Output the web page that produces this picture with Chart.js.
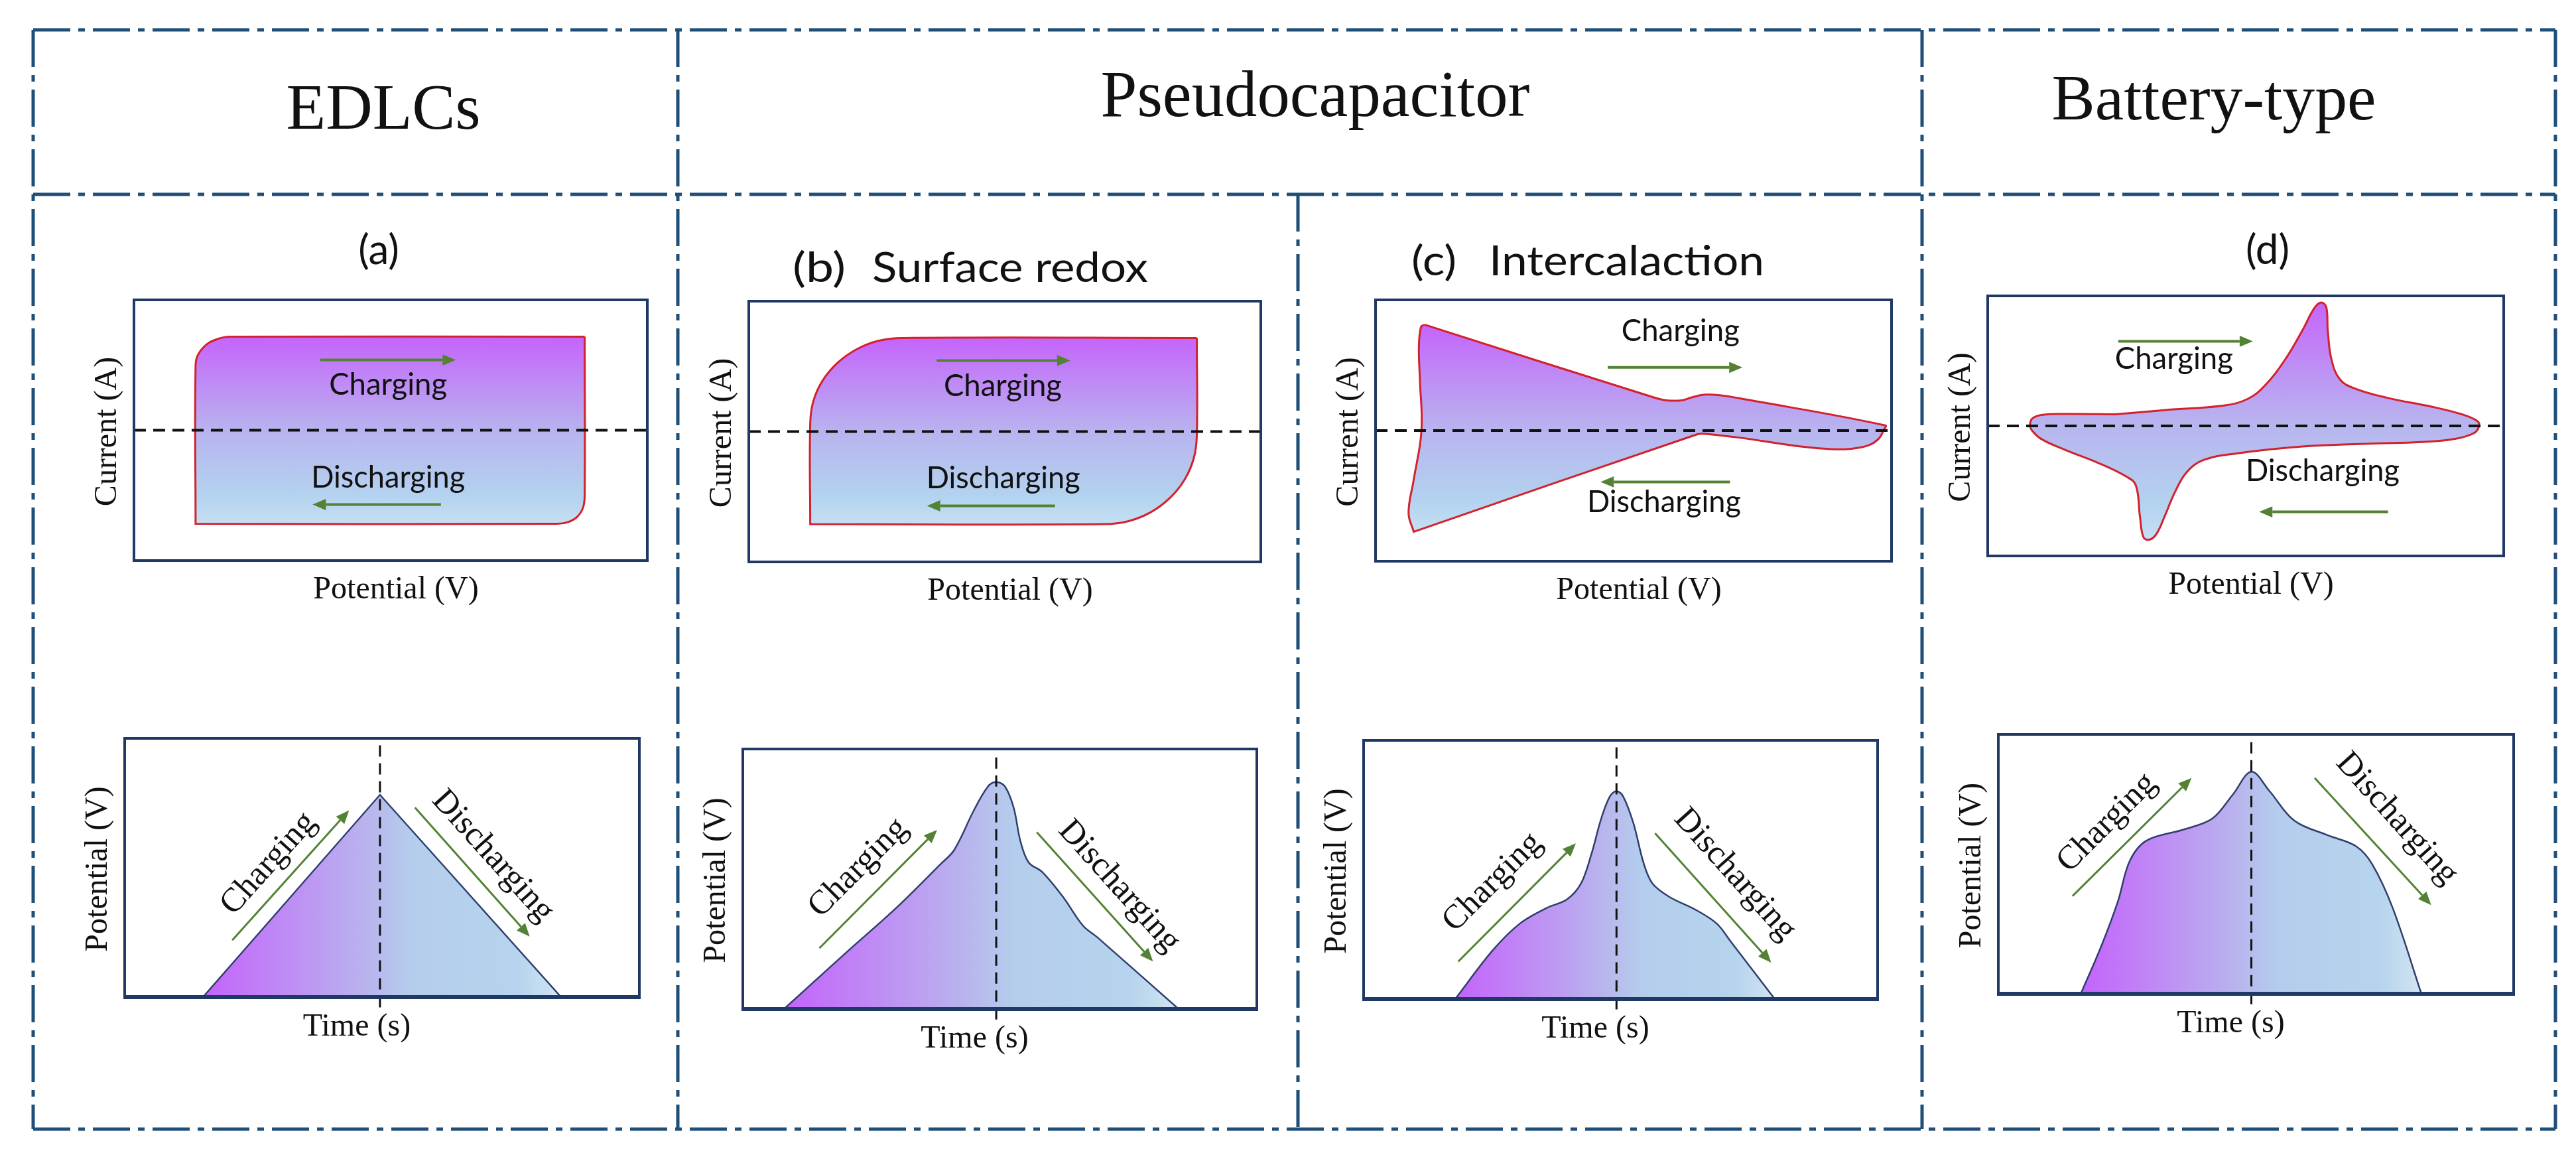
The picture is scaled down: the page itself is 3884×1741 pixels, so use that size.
<!DOCTYPE html>
<html>
<head>
<meta charset="utf-8">
<title>EDLC / pseudocapacitor / battery-type CV and GCD shapes</title>
<script src="https://cdn.jsdelivr.net/npm/chart.js@4.4.1/dist/chart.umd.min.js"></script>
<style>
  html, body { margin: 0; padding: 0; background: #fff; }
  #page { position: relative; width: 3884px; height: 1741px; overflow: hidden; background: #fff; }
  #frame { position: absolute; left: 0; top: 0; }
  canvas { position: absolute; }
</style>
</head>
<body>
<div id="page">
<svg id="frame" width="3884" height="1741" xmlns="http://www.w3.org/2000/svg">
  <g stroke="#1f4e79" stroke-width="5" stroke-dasharray="56 12 10 12" fill="none">
    <line x1="50" y1="45" x2="3853" y2="45"/>
    <line x1="50" y1="293" x2="3853" y2="293"/>
    <line x1="50" y1="1702" x2="3853" y2="1702"/>
    <line x1="50" y1="45" x2="50" y2="1702"/>
    <line x1="3853" y1="45" x2="3853" y2="1702"/>
    <line x1="1022" y1="45" x2="1022" y2="1702"/>
    <line x1="2898" y1="45" x2="2898" y2="1702"/>
    <line x1="1957" y1="293" x2="1957" y2="1702"/>
  </g>
  <g font-family="Liberation Serif, Times New Roman, serif" fill="#111" text-anchor="middle">
    <text x="578" y="194" font-size="98" textLength="293" lengthAdjust="spacingAndGlyphs">EDLCs</text>
    <text x="1983" y="175" font-size="100" textLength="647" lengthAdjust="spacingAndGlyphs">Pseudocapacitor</text>
    <text x="3338" y="180" font-size="98" textLength="489" lengthAdjust="spacingAndGlyphs">Battery-type</text>
  </g>
  <g font-family="Lato, Open Sans, sans-serif" fill="#111" font-size="62">
    <text x="571" y="398" text-anchor="middle">(a)</text>
    <text x="1195" y="425" textLength="80" lengthAdjust="spacingAndGlyphs">(b)</text>
    <text x="1315" y="425" textLength="416" lengthAdjust="spacingAndGlyphs">Surface redox</text>
    <text x="2128" y="415" textLength="68" lengthAdjust="spacingAndGlyphs">(c)</text>
    <text x="2245" y="415" textLength="415" lengthAdjust="spacingAndGlyphs">Intercalaction</text>
    <text x="3419" y="398" text-anchor="middle">(d)</text>
  </g>
</svg>
</div>
<script>
// CV loops: [potential, current] scaled to the plot box (x 0..100, current -100..100)
const edlcCV = [[87.8, 71.7], [87.8, -49.2], [87.5, -59.1], [86.4, -66.2], [84.6, -70.4], [82.4, -71.8],
  [12.0, -71.8], [12.0, -71.8], [12.0, 49.6], [12.5, 58.1], [14.2, 66.0], [16.3, 70.0], [18.7, 71.7], [87.8, 71.7]];

const surfaceCV = [[87.5, 71.8], [87.5, -3], [86.9, -20.6], [85.1, -37], [82.2, -51.1], [78.5, -61.9], [74.2, -68.7],
  [69.5, -71], [12, -71], [12, -71], [12, 6.2], [12.6, 23.2], [14.4, 39], [17.3, 52.6], [21, 63], [25.3, 69.6],
  [30, 71.8], [87.5, 71.8]];

const intercalCV = [[9.5, 81.0], [54.1, 25.1], [56.4, 23.1], [59.3, 23.1], [61.3, 25.4], [63.9, 27.5], [67.2, 26.8],
  [70.5, 24.7], [98.8, 3.9], [98.5, 0.5], [97.5, -6.3], [95.5, -11.4], [92.2, -13.9], [88.3, -14.2], [82.4, -12.2],
  [70.5, -5.4], [63.9, -2.5], [62.3, -2.9], [7.4, -77.5], [7.4, -77.5], [6.4, -63.1], [7.4, -37.6], [8.9, 0],
  [8.6, 38.6], [8.4, 64.1], [8.8, 79.3], [9.5, 81.0]];

const batteryCV = [[24.8, 8.9], [34.6, 12.3], [45.8, 15.7], [50.4, 20.8], [53.7, 31.0], [57.7, 51.4], [61.0, 73.6],
  [63.3, 90.6], [64.6, 94.9], [65.6, 91.5], [65.9, 73.6], [66.6, 51.4], [68.2, 36.1], [70.8, 29.3], [77.4, 21.6],
  [86.0, 14.8], [91.9, 8.9], [94.9, 3.7], [95.2, -0.5], [94.2, -5.6], [90.6, -9.9], [84.0, -12.4], [74.1, -13.6],
  [61.0, -15.8], [48.5, -21.0], [41.9, -26.1], [38.6, -35.4], [36.3, -50.8], [34.3, -69.5], [32.7, -83.1],
  [31.4, -87.4], [30.2, -85.7], [29.5, -69.5], [28.7, -45.7], [26.8, -38.8], [21.5, -28.6], [15.0, -18.4],
  [10.3, -9.9], [8.5, -3.1], [8.2, 0.3], [8.6, 5.5], [10.6, 8.5], [15.6, 9.2], [24.8, 8.9]];

// GCD profiles: [time, potential] scaled to the plot box (0..100)
const edlcGCD = [[15.2, 0], [49.6, 78.2], [84.8, 0], [15.2, 0]];

const surfaceGCD = [[8.0, 0], [20.6, 22.6], [29.8, 38.8], [38.4, 55.6], [41.1, 61.1], [45.0, 76.6], [47.7, 85.6],
  [49.3, 87.3], [51.0, 85.6], [52.7, 77.4], [54.0, 64.6], [55.6, 56.4], [58.3, 52.6], [62.3, 43.1], [66.2, 32.0],
  [68.9, 27.7], [84.8, 0], [84.8, 0], [8.0, 0]];

const intercalGCD = [[17.8, 0], [25.1, 18.8], [30.4, 29.2], [35.6, 35.2], [39.6, 38.6], [42.3, 44.7], [44.3, 55.9],
  [46.2, 69.6], [47.9, 78.3], [49.2, 80.4], [50.5, 78.3], [52.5, 67.9], [54.5, 52.4], [56.2, 44.7], [59.5, 39.5],
  [64.8, 34.3], [68.7, 29.2], [71.4, 22.3], [80.0, 0], [80.0, 0], [17.8, 0]];

const batteryGCD = [[16.0, 0], [20.0, 18.5], [23.2, 35.6], [25.5, 51.2], [28.7, 59.0], [35.9, 63.3], [41.5, 67.5],
  [45.5, 76.8], [49.1, 85.6], [52.6, 78.2], [57.4, 66.8], [63.8, 61.2], [69.4, 56.9], [72.6, 49.8], [76.6, 32.7],
  [82.1, 0], [82.1, 0], [16.0, 0]];

// time where charging turns to discharging
const peakTimes = [49.6, 49.3, 49.2, 49.1];

const GREEN = '#548235';
const PAD = { left: 80, right: 20, top: 20, bottom: 80 };
const SERIF = "'Liberation Serif', 'Times New Roman', serif";

// box = [left, top, right, bottom] of the plot frame on the page
const cvPanels = [
  { box: [202, 452, 976, 845], loop: edlcCV,
    arrows: [[36.3, 53.9, 62.7, 53.9], [59.8, -57, 34.8, -57]],
    labels: [['Charging', 49.5, 27.0], ['Discharging', 49.5, -43.8]] },
  { box: [1129, 454, 1901, 847], loop: surfaceCV,
    arrows: [[36.7, 54.5, 62.8, 54.5], [59.8, -57, 34.8, -57]],
    labels: [['Charging', 49.6, 27.0], ['Discharging', 49.7, -43.3]] },
  { box: [2074, 452, 2852, 846], loop: intercalCV,
    arrows: [[45.0, 48.3, 71.1, 48.3], [68.7, -39.3, 43.6, -39.3]],
    labels: [['Charging', 59.1, 68.3], ['Discharging', 55.9, -62.2]] },
  { box: [2997, 446, 3775, 838], loop: batteryCV,
    arrows: [[25.3, 65.1, 51.4, 65.1], [77.6, -66.1, 52.6, -66.1]],
    labels: [['Charging', 36.1, 43.8], ['Discharging', 64.9, -42.2]] }
];

const gcdPanels = [
  { box: [188, 1113, 964, 1503], curve: edlcGCD, tension: 0,
    arrows: [[20.9, 22.0, 43.6, 72.2], [56.4, 73.3, 78.7, 23.4]],
    labels: [['Charging', 28.0, 51.6, -48], ['Discharging', 71.5, 54.5, 48]] },
  { box: [1120, 1129, 1895, 1521], curve: surfaceGCD, tension: 0.35,
    arrows: [[14.9, 23.4, 37.8, 68.9], [57.2, 68.0, 79.8, 18.3]],
    labels: [['Charging', 22.5, 54.3, -45], ['Discharging', 73.2, 47.2, 48]] },
  { box: [2056, 1116, 2831, 1506], curve: intercalGCD, tension: 0.35,
    arrows: [[18.4, 14.5, 41.3, 60.2], [56.7, 64.1, 79.3, 14.1]],
    labels: [['Charging', 25.1, 45.1, -45], ['Discharging', 72.2, 48.1, 48]] },
  { box: [3013, 1107, 3790, 1498], curve: batteryGCD, tension: 0.35,
    arrows: [[14.4, 37.7, 37.5, 83.2], [61.4, 83.2, 84.0, 34.2]],
    labels: [['Charging', 21.1, 65.9, -45], ['Discharging', 77.3, 67.5, 48]] }
];

function toXY(pts) {
  return pts.map((p) => ({ x: p[0], y: p[1] }));
}

function shapeGradient(chart, pts, horizontal) {
  const { ctx, chartArea, scales } = chart;
  if (!chartArea) return 'rgba(0,0,0,0)';
  let g;
  if (horizontal) {
    const xs = pts.map((p) => p[0]);
    g = ctx.createLinearGradient(scales.x.getPixelForValue(Math.min(...xs)), 0,
      scales.x.getPixelForValue(Math.max(...xs)), 0);
    g.addColorStop(0, '#c463fb');
    g.addColorStop(0.45, '#b9b2ee');
    g.addColorStop(0.58, '#b4cdec');
    g.addColorStop(0.88, '#b6d4ed');
    g.addColorStop(1, '#d2e5f3');
  } else {
    const ys = pts.map((p) => p[1]);
    g = ctx.createLinearGradient(0, scales.y.getPixelForValue(Math.max(...ys)), 0,
      scales.y.getPixelForValue(Math.min(...ys)));
    g.addColorStop(0, '#c564fb');
    g.addColorStop(0.5, '#b8b3ef');
    g.addColorStop(0.85, '#b3d3ef');
    g.addColorStop(1, '#c6dff3');
  }
  return g;
}

function drawArrow(ctx, x1, y1, x2, y2, width, head) {
  const ang = Math.atan2(y2 - y1, x2 - x1);
  const bx = x2 - head * Math.cos(ang);
  const by = y2 - head * Math.sin(ang);
  const hw = head * 0.42;
  ctx.strokeStyle = GREEN;
  ctx.fillStyle = GREEN;
  ctx.lineWidth = width;
  ctx.beginPath();
  ctx.moveTo(x1, y1);
  ctx.lineTo(bx, by);
  ctx.stroke();
  ctx.beginPath();
  ctx.moveTo(x2, y2);
  ctx.lineTo(bx + hw * Math.sin(ang), by - hw * Math.cos(ang));
  ctx.lineTo(bx - hw * Math.sin(ang), by + hw * Math.cos(ang));
  ctx.closePath();
  ctx.fill();
}

function makeDecor(p, kind) {
  return {
    id: 'decor',
    afterDatasetsDraw(chart) {
      const { ctx, chartArea: a, scales: { x, y } } = chart;
      const cx = (a.left + a.right) / 2;
      const cy = (a.top + a.bottom) / 2;
      ctx.save();

      ctx.strokeStyle = '#1f3864';
      ctx.lineWidth = 4;
      ctx.strokeRect(a.left, a.top, a.right - a.left, a.bottom - a.top);
      if (kind === 'gcd') {
        ctx.lineWidth = 6;
        ctx.beginPath();
        ctx.moveTo(a.left - 2, a.bottom);
        ctx.lineTo(a.right + 2, a.bottom);
        ctx.stroke();
      }

      p.arrows.forEach((ar) => {
        drawArrow(ctx, x.getPixelForValue(ar[0]), y.getPixelForValue(ar[1]),
          x.getPixelForValue(ar[2]), y.getPixelForValue(ar[3]), kind === 'cv' ? 4 : 3, 20);
      });

      ctx.fillStyle = '#111';
      p.labels.forEach((l) => {
        const px = x.getPixelForValue(l[1]);
        const py = y.getPixelForValue(l[2]);
        ctx.save();
        ctx.translate(px, py);
        ctx.textAlign = 'center';
        if (kind === 'cv') {
          ctx.font = "46px Lato, 'Open Sans', sans-serif";
          ctx.textBaseline = 'alphabetic';
          ctx.fillText(l[0], 0, 0, l[0] === 'Charging' ? 178 : 232);
        } else {
          ctx.rotate(l[3] * Math.PI / 180);
          ctx.font = '51px ' + SERIF;
          ctx.textBaseline = 'middle';
          ctx.fillText(l[0], 0, 0);
        }
        ctx.restore();
      });

      // axis titles
      ctx.font = '48px ' + SERIF;
      ctx.textAlign = 'center';
      ctx.textBaseline = 'alphabetic';
      if (kind === 'cv') {
        ctx.fillText('Potential (V)', cx + 8, a.bottom + 57);
      } else {
        ctx.fillText('Time (s)', cx - 38, a.bottom + 58);
      }
      ctx.save();
      ctx.translate(a.left - 40, cy + 2);
      ctx.rotate(-Math.PI / 2);
      ctx.font = '48px ' + SERIF;
      ctx.textBaseline = 'middle';
      ctx.fillText(kind === 'cv' ? 'Current (A)' : 'Potential (V)', 0, 0);
      ctx.restore();

      ctx.restore();
    }
  };
}

function makeCanvas(box) {
  const c = document.createElement('canvas');
  c.width = box[2] - box[0] + PAD.left + PAD.right;
  c.height = box[3] - box[1] + PAD.top + PAD.bottom;
  c.style.left = (box[0] - PAD.left) + 'px';
  c.style.top = (box[1] - PAD.top) + 'px';
  document.getElementById('page').appendChild(c);
  return c;
}

function baseOptions(yMin) {
  return {
    responsive: false,
    animation: false,
    events: [],
    devicePixelRatio: 1,
    layout: { padding: PAD },
    plugins: { legend: { display: false }, tooltip: { enabled: false } },
    scales: {
      x: { type: 'linear', display: false, min: 0, max: 100 },
      y: { type: 'linear', display: false, min: yMin, max: 100 }
    }
  };
}

cvPanels.forEach((p) => {
  new Chart(makeCanvas(p.box), {
    type: 'line',
    data: {
      datasets: [
        {
          data: [{ x: 0, y: 0 }, { x: 100, y: 0 }],
          borderColor: '#111',
          borderWidth: 4,
          borderDash: [18, 11],
          pointRadius: 0,
          tension: 0,
          fill: false
        },
        {
          data: toXY(p.loop),
          borderColor: '#d3212d',
          borderWidth: 3,
          pointRadius: 0,
          tension: 0.4,
          fill: 'shape',
          backgroundColor: (ctx) => shapeGradient(ctx.chart, p.loop, false)
        }
      ]
    },
    options: baseOptions(-100),
    plugins: [makeDecor(p, 'cv')]
  });
});

gcdPanels.forEach((p, i) => {
  new Chart(makeCanvas(p.box), {
    type: 'line',
    data: {
      datasets: [
        {
          data: [{ x: peakTimes[i], y: -4 }, { x: peakTimes[i], y: 97.5 }],
          borderColor: '#111',
          borderWidth: 3,
          borderDash: [17, 10],
          pointRadius: 0,
          tension: 0,
          fill: false,
          clip: false
        },
        {
          data: toXY(p.curve),
          borderColor: '#2f3f6e',
          borderWidth: 2.5,
          pointRadius: 0,
          tension: p.tension,
          fill: 'shape',
          backgroundColor: (ctx) => shapeGradient(ctx.chart, p.curve, true)
        }
      ]
    },
    options: baseOptions(0),
    plugins: [makeDecor(p, 'gcd')]
  });
});
</script>
</body>
</html>
